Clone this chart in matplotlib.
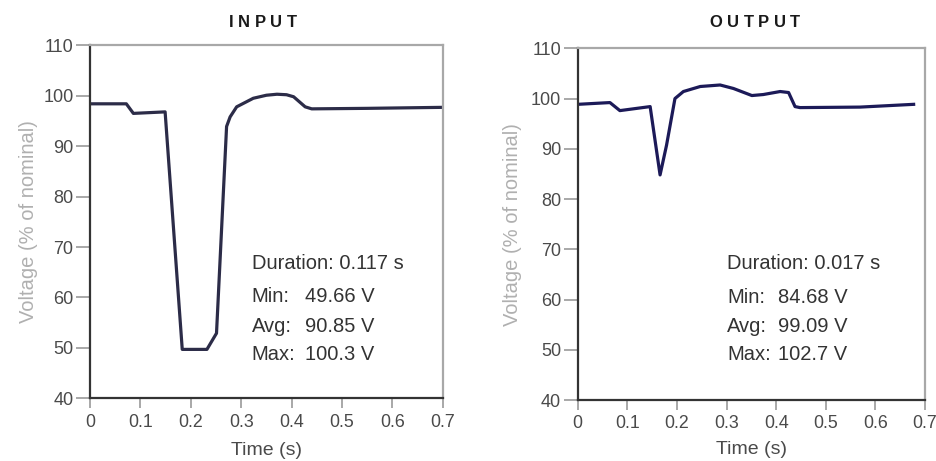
import matplotlib
matplotlib.use("Agg")
import matplotlib.pyplot as plt

plt.rcParams['font.family'] = ['Liberation Sans', 'DejaVu Sans']

# ---- data ----
input_t = [0, 0.072, 0.086, 0.149, 0.183, 0.232, 0.251, 0.271, 0.278, 0.291,
           0.324, 0.350, 0.371, 0.390, 0.404, 0.427, 0.440, 0.55, 0.7]
input_v = [98.4, 98.4, 96.5, 96.8, 49.7, 49.7, 52.9, 93.9, 95.8, 97.8,
           99.5, 100.1, 100.3, 100.2, 99.8, 97.8, 97.4, 97.5, 97.7]

output_t = [0, 0.065, 0.085, 0.146, 0.166, 0.179, 0.196, 0.213, 0.247, 0.287,
            0.314, 0.351, 0.374, 0.408, 0.425, 0.438, 0.448, 0.569, 0.677]
output_v = [98.85, 99.2, 97.6, 98.4, 84.8, 90.7, 100.0, 101.4, 102.4, 102.7,
            102.0, 100.6, 100.8, 101.4, 101.2, 98.4, 98.2, 98.3, 98.85]

x_ticks = [0, 0.1, 0.2, 0.3, 0.4, 0.5, 0.6, 0.7]
x_tick_labels = ["0", "0.1", "0.2", "0.3", "0.4", "0.5", "0.6", "0.7"]
y_ticks = [40, 50, 60, 70, 80, 90, 100, 110]

titles = ["INPUT", "OUTPUT"]
stat_labels = ["Min:", "Avg:", "Max:"]
input_stats = ["0.117 s", "49.66 V", "90.85 V", "100.3 V"]
output_stats = ["0.017 s", "84.68 V", "99.09 V", "102.7 V"]

fig = plt.figure(figsize=(9.36, 4.61), dpi=100)
fig.patch.set_facecolor('white')

ax_in = fig.add_axes([0.0962, 0.136, 0.3768, 0.7657])
ax_out = fig.add_axes([0.6172, 0.1323, 0.3711, 0.7629])


def style_axes(ax, xlabelpad, ylabelpad):
    ax.set_xlim(0, 0.7)
    ax.set_ylim(40, 110)
    ax.set_xticks(x_ticks)
    ax.set_xticklabels(x_tick_labels)
    ax.set_yticks(y_ticks)
    ax.tick_params(axis='x', direction='out', length=7, width=1.2, color='#9a9a9a',
                   labelsize=12.8, labelcolor='#4a4a4a', pad=4)
    ax.tick_params(axis='y', direction='out', length=10, width=1.2, color='#9a9a9a',
                   labelsize=13, labelcolor='#4a4a4a', pad=2)
    for s in ['left', 'bottom']:
        ax.spines[s].set_color('#333333')
        ax.spines[s].set_linewidth(1.6)
    for s in ['top', 'right']:
        ax.spines[s].set_color('#a8a8a8')
        ax.spines[s].set_linewidth(1.6)
    ax.set_xlabel("Time (s)", fontsize=14, color='#4a4a4a', labelpad=xlabelpad)
    ax.set_ylabel("Voltage (% of nominal)", fontsize=14.5, color='#b0b0b0',
                  labelpad=ylabelpad)


style_axes(ax_in, 8, 4)
style_axes(ax_out, 6, 6)

ax_in.plot(input_t, input_v, color='#2c2c48', lw=2.3, solid_joinstyle='round')
ax_out.plot(output_t, output_v, color='#1c1a58', lw=2.3, solid_joinstyle='round')


def stats_block(ax, vals, xl, xv, ys):
    ax.text(xl, ys[0], "Duration: " + vals[0], transform=ax.transAxes,
            fontsize=14.5, color='#333333', va='center', ha='left')
    for lab, v, y in zip(stat_labels, vals[1:], ys[1:]):
        ax.text(xl, y, lab, transform=ax.transAxes, fontsize=14.5,
                color='#333333', va='center', ha='left')
        ax.text(xv, y, v, transform=ax.transAxes, fontsize=14.5,
                color='#333333', va='center', ha='left')


stats_block(ax_in, input_stats, 0.4585, 0.6096, [0.383, 0.288, 0.203, 0.123])
stats_block(ax_out, output_stats, 0.4308, 0.5776, [0.389, 0.291, 0.208, 0.128])

# spaced bold titles
fig.canvas.draw()
renderer = fig.canvas.get_renderer()


def spaced_title(text, xc, y, spacing_px=4.5):
    widths = []
    for ch in text:
        t = fig.text(0, 0, ch, fontsize=12, fontweight='bold')
        bb = t.get_window_extent(renderer)
        widths.append(bb.width)
        t.remove()
    total = sum(widths) + spacing_px * (len(text) - 1)
    x = xc * fig.bbox.width - total / 2
    for ch, w in zip(text, widths):
        fig.text(x / fig.bbox.width, y, ch, fontsize=12, fontweight='bold',
                 color='#1a1a1a', ha='left', va='center')
        x += w + spacing_px


spaced_title(titles[0], 0.2807, 0.951)
spaced_title(titles[1], 0.8066, 0.951)

fig.savefig("out.png", dpi=100, facecolor='white')
